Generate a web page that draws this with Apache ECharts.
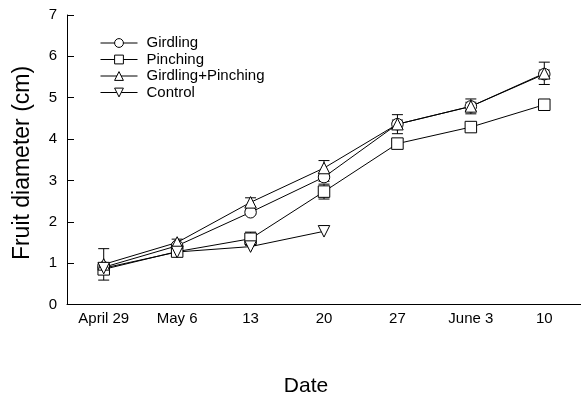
<!DOCTYPE html>
<html><head><meta charset="utf-8">
<script src="https://cdn.jsdelivr.net/npm/echarts@6/dist/echarts.min.js"></script>
<style>html,body{margin:0;padding:0;background:#fff}#c{width:581px;height:398px}</style>
</head><body><div id="c"></div>
<script>
const categories = ['April 29','May 6','13','20','27','June 3','10'];
const girdling = [0.90, 1.42, 2.23, 3.08, 4.36, 4.79, 5.57];
const pinching = [0.85, 1.28, 1.59, 2.73, 3.89, 4.29, 4.83];
const girdPinch = [0.97, 1.50, 2.47, 3.30, 4.36, 4.79, 5.59];
const control = [0.88, 1.27, 1.40, 1.77, null, null, null];
const girdPinchErr = [0.38, 0.08, 0.11, 0.18, 0.23, 0.18, 0.27];
const pinchingErr = [0.05, 0.03, 0.16, 0.18, 0.05, 0.05, 0.05];
const girdlingErr = [0.05, 0.05, 0.05, 0.10, 0.10, 0.10, 0.10];
const yTicks = [0,1,2,3,4,5,6,7];
const xTitle = 'Date';
const yTitle = 'Fruit diameter (cm)';

const FONT = 'Liberation Sans, Arial, sans-serif';
const chart = echarts.init(document.getElementById('c'));

function errSeries(vals, errs){
  const data = vals.map((v,i)=> v==null||errs[i]==null ? null : [i, v-errs[i], v+errs[i]]).filter(d=>d);
  return {
    type:'custom', z:1, silent:true,
    renderItem(params, api){
      const x = api.value(0);
      const lo = api.coord([x, api.value(1)]);
      const hi = api.coord([x, api.value(2)]);
      const w = 5.5;
      const st = {stroke:'#000', lineWidth:1};
      return {type:'group', children:[
        {type:'line', shape:{x1:lo[0],y1:lo[1],x2:hi[0],y2:hi[1]}, style:st},
        {type:'line', shape:{x1:lo[0]-w,y1:lo[1],x2:lo[0]+w,y2:lo[1]}, style:st},
        {type:'line', shape:{x1:hi[0]-w,y1:hi[1],x2:hi[0]+w,y2:hi[1]}, style:st}
      ]};
    },
    data
  };
}

function lineSeries(name, data, symbol, rotate){
  return {
    name, type:'line', data, symbol, symbolSize: 11.5, symbolRotate: rotate||0,
    z:3, connectNulls:false,
    lineStyle:{color:'#000', width:1},
    itemStyle:{color:'#fff', borderColor:'#000', borderWidth:1},
    emphasis:{disabled:true}
  };
}

chart.setOption({
  animation:false,
  backgroundColor:'#fff',
  grid:{left:67, right:0, top:15, bottom:93.5},
  legend:{
    orient:'vertical', left:100, top:35.5, padding:0, itemWidth:37, itemHeight:11, itemGap:1.5,
    lineStyle:{width:1, color:'#000'},
    itemStyle:{color:'#fff', borderColor:'#000', borderWidth:1},
    textStyle:{fontFamily:FONT, fontSize:15, color:'#000', padding:[0,0,0,4]},
    data:['Girdling','Pinching','Girdling+Pinching','Control']
  },
  xAxis:{
    type:'category', data:categories, boundaryGap:true,
    axisLine:{lineStyle:{color:'#000', width:1}},
    axisTick:{alignWithLabel:true, inside:true, length:6, lineStyle:{color:'#000'}},
    axisLabel:{fontFamily:FONT, fontSize:15, color:'#000', margin:7},
    splitLine:{show:false}
  },
  yAxis:{
    type:'value', min:0, max:7, interval:1,
    axisLine:{show:true, lineStyle:{color:'#000', width:1}},
    axisTick:{show:true, inside:true, length:7, lineStyle:{color:'#000'}},
    axisLabel:{fontFamily:FONT, fontSize:15, color:'#000', margin:10,
      formatter:v=> yTicks.includes(v) ? String(v) : ''},
    splitLine:{show:false}
  },
  graphic:[
    {type:'text', x:306, y:386, style:{text:xTitle, fontFamily:FONT, fontSize:21, fill:'#000', align:'center', verticalAlign:'middle'}},
    {type:'text', x:23, y:163, rotation:Math.PI/2, style:{text:yTitle, fontFamily:FONT, fontSize:23, fill:'#000', align:'center', verticalAlign:'middle'}}
  ],
  series:[
    errSeries(girdPinch, girdPinchErr),
    errSeries(pinching, pinchingErr),
    errSeries(girdling, girdlingErr),
    lineSeries('Girdling', girdling, 'circle'),
    lineSeries('Pinching', pinching, 'rect'),
    lineSeries('Girdling+Pinching', girdPinch, 'triangle'),
    lineSeries('Control', control, 'triangle', 180)
  ]
});
</script></body></html>
